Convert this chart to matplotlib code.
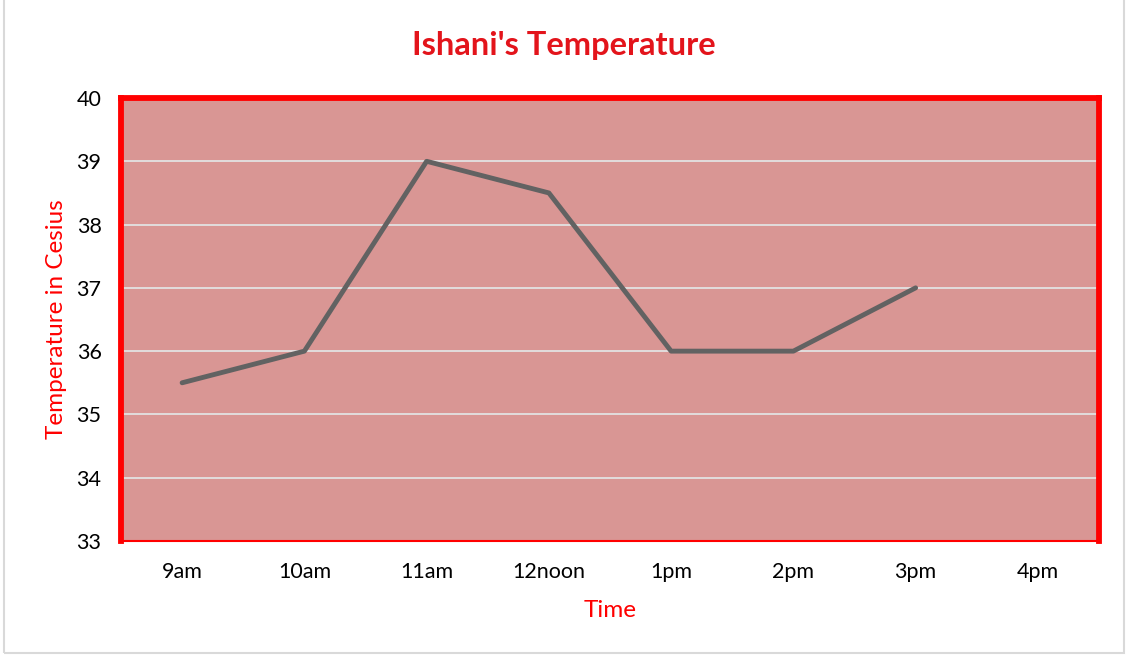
import matplotlib.pyplot as plt
import matplotlib.patches as patches
import numpy as np

times = ["9am", "10am", "11am", "12noon", "1pm", "2pm", "3pm", "4pm"]
temps = [35.5, 36, 39, 38.5, 36, 36, 37, np.nan]
y_ticks = [33, 34, 35, 36, 37, 38, 39, 40]

plt.rcParams['font.family'] = ['Lato', 'DejaVu Sans']

fig = plt.figure(figsize=(11.28, 6.55), dpi=100)
ax = fig.add_axes([121 / 1128, 1 - 541 / 655, (1099 - 121) / 1128, (541 - 98) / 655])

# light grey chart-area frame
fig.patches.append(patches.Rectangle((4 / 1128, 2 / 655), 1120 / 1128, 660 / 655,
                                     transform=fig.transFigure, fill=False,
                                     edgecolor='#D9D9D9', linewidth=1.5))

ax.set_facecolor('#D99694')
x = np.arange(len(times))
ax.plot(x, temps, color='#626262', linewidth=3.5, solid_capstyle='round', zorder=3)

ax.set_xlim(-0.5, len(times) - 0.5)
ax.set_ylim(33, 40)
ax.set_yticks(y_ticks)
ax.set_xticks(x)
ax.set_xticklabels(times)
ax.tick_params(axis='both', length=0, labelsize=15.5, colors='black')
ax.tick_params(axis='y', pad=14)
ax.tick_params(axis='x', pad=15)
ax.yaxis.grid(True, color='#E2E2E2', linewidth=1.3)
ax.set_axisbelow(True)

for side in ['left', 'top', 'right']:
    ax.spines[side].set_color('#FF0000')
    ax.spines[side].set_linewidth(4.2)
ax.spines['bottom'].set_color('#FF0000')
ax.spines['bottom'].set_linewidth(1.5)

ax.set_ylabel("Temperature in Cesius", color='#FF0000', fontsize=17.5, labelpad=7)
ax.set_xlabel("Time", color='#FF0000', fontsize=17.5, labelpad=13)
fig.text(0.5, 1 - 45 / 655, "Ishani's Temperature", color='#E3141B', fontsize=23.5,
         fontweight='bold', ha='center', va='center')

fig.savefig("out.png", dpi=100)
